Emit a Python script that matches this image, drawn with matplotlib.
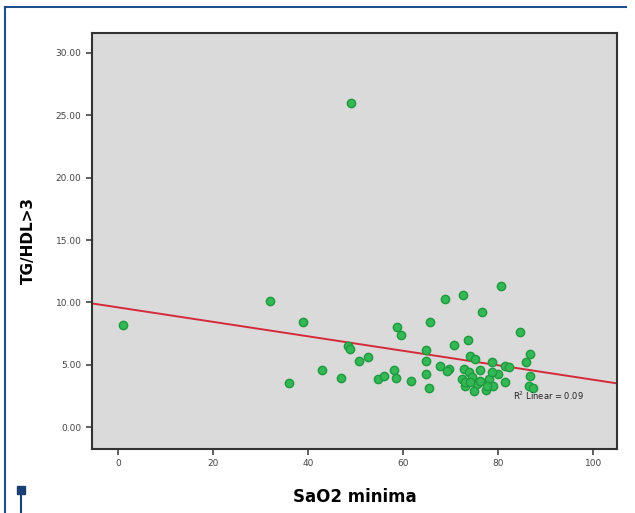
import matplotlib.pyplot as plt
import matplotlib.patches as mpatches
from matplotlib.lines import Line2D
import numpy as np

# SaO2 minima vs TG/HDL>3
sao2 = [1, 49, 32, 39, 36, 43, 47, 48.3, 48.7, 50.6, 52.6, 54.6, 56, 58, 58.5,
        58.6, 59.5, 61.6, 64.8, 64.8, 64.8, 65.5, 65.6, 67.8, 68.7, 69.6, 70.7,
        72.6, 73.7, 72.7, 73.8, 72.3, 74.5, 73.1, 75.5, 76.2, 74.0, 75.2, 76.6,
        78.7, 78.0, 79.0, 80.0, 81.5, 80.6, 81.5, 82.2, 84.6, 86.6, 85.8, 86.7,
        86.4, 87.4, 73.0, 77.5, 69.2, 74.1, 76.2, 77.6, 78.6, 74.8]
tg_hdl = [8.2, 26.0, 10.1, 8.4, 3.5, 4.6, 3.95, 6.5, 6.3, 5.3, 5.6, 3.85, 4.1,
          4.6, 3.95, 8.0, 7.4, 3.7, 6.2, 5.3, 4.3, 3.1, 8.4, 4.9, 10.3, 4.65,
          6.6, 10.6, 7.0, 4.7, 4.4, 3.85, 4.0, 3.3, 3.45, 4.6, 5.7, 5.45, 9.25,
          5.2, 3.85, 3.3, 4.25, 3.6, 11.3, 4.9, 4.8, 7.6, 5.85, 5.2, 4.1,
          3.3, 3.1, 3.6, 3.0, 4.5, 3.6, 3.7, 3.3, 4.4, 2.9]

# reta de ajuste linear mostrada no grafico
fit_intercept = 9.6
fit_slope = -0.058
r2_text = 'R$^2$ Linear = 0.09'

xticks = [0, 20, 40, 60, 80, 100]
yticks = [0, 5, 10, 15, 20, 25, 30]

fig = plt.figure(figsize=(6.35, 5.13), dpi=100)
ax = fig.add_axes([0.1449, 0.1248, 0.8268, 0.8109])
ax.set_facecolor('#dadada')

ax.scatter(sao2, tg_hdl, s=36, facecolor='#34b755', edgecolor='#1f9a3e',
           linewidth=1.0, zorder=3)

xs = np.array([-5.5, 105])
ax.plot(xs, fit_intercept + fit_slope * xs, color='#d32b3b', linewidth=1.4, zorder=2)
ax.text(83, 2.55, r2_text, fontsize=6, color='#222222', va='center', ha='left', zorder=4)

ax.set_xlim(-5.5, 105)
ax.set_ylim(-1.75, 31.6)
ax.set_xticks(xticks)
ax.set_xticklabels([str(t) for t in xticks])
ax.set_yticks(yticks)
ax.set_yticklabels(['%.2f' % t for t in yticks])
ax.tick_params(direction='out', length=4, width=1.2, color='#444444',
               labelsize=6.5, labelcolor='#444444')
for sp in ax.spines.values():
    sp.set_color('#333333')
    sp.set_linewidth(1.5)

ax.set_xlabel('SaO2 minima', fontsize=12, fontweight='bold', labelpad=14)
ax.set_ylabel('TG/HDL>3', fontsize=11, fontweight='bold', labelpad=14)

# moldura azul da figura
blue = '#1d4f8c'
fig.add_artist(Line2D([5 / 635, 5 / 635], [0, 1 - 7 / 513], color=blue, lw=1.5))
fig.add_artist(Line2D([5 / 635, 626 / 635], [1 - 7 / 513, 1 - 7 / 513], color=blue, lw=1.5))
fig.add_artist(mpatches.Rectangle((17 / 635, 1 - 494 / 513), 8 / 635, 8 / 513,
                                  color='#1a3f73', transform=fig.transFigure))
fig.add_artist(Line2D([21 / 635, 21 / 635], [0, 1 - 494 / 513], color='#1a3f73', lw=1.5))

plt.savefig('out.png', dpi=100)
